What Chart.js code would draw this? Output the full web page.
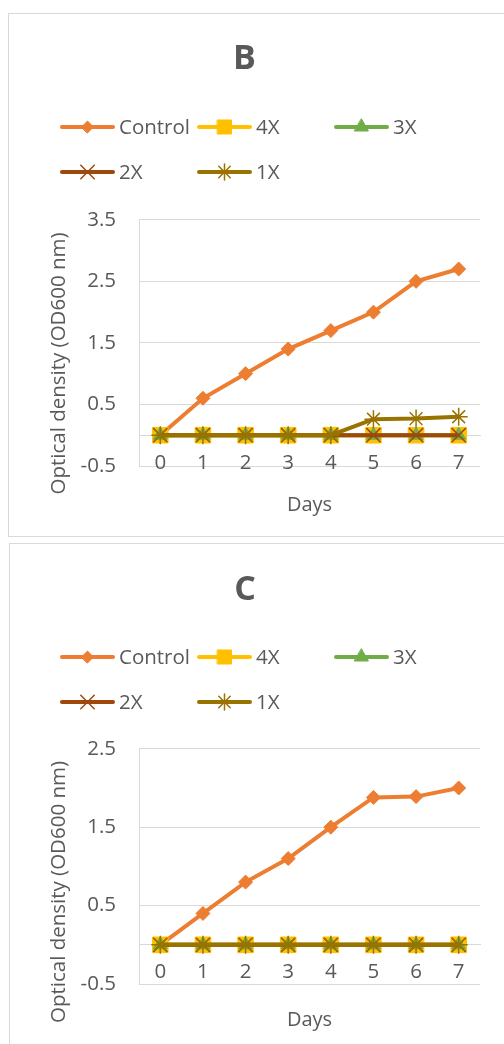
<!DOCTYPE html>
<html>
<head>
<meta charset="utf-8">
<script src="https://cdn.jsdelivr.net/npm/chart.js@4/dist/chart.umd.min.js"></script>
<style>
  html, body { margin: 0; padding: 0; background: #fff; width: 504px; height: 1044px; overflow: hidden; position: relative; }
  .panel { position: absolute; box-sizing: border-box; border: 1px solid #d9d9d9; width: 530px; height: 524px; background: #fff; }
  #panelB { left: 8px; top: 13px; }
  #panelC { left: 9px; top: 543px; }
  .panel canvas { position: absolute; left: 0; top: 0; }
</style>
</head>
<body>
<div class="panel" id="panelB"><canvas id="chartB" width="495" height="522"></canvas></div>
<div class="panel" id="panelC"><canvas id="chartC" width="494" height="522"></canvas></div>
<script>
// Days of incubation (category axis)
const days = ['0', '1', '2', '3', '4', '5', '6', '7'];
const seriesNames = ['Control', '4X', '3X', '2X', '1X'];

// Panel B: optical density (OD600)
const controlB = [0, 0.6, 1.0, 1.4, 1.7, 2.0, 2.5, 2.7];
const fourXB   = [0, 0, 0, 0, 0, 0, 0, 0];
const threeXB  = [0, 0, 0, 0, 0, 0, 0, 0];
const twoXB    = [0, 0, 0, 0, 0, 0, 0, 0];
const oneXB    = [0, 0, 0, 0, 0, 0.26, 0.27, 0.3];
const yTicksB  = [-0.5, 0.5, 1.5, 2.5, 3.5];

// Panel C: optical density (OD600)
const controlC = [0, 0.4, 0.8, 1.1, 1.5, 1.88, 1.89, 2.0];
const fourXC   = [0, 0, 0, 0, 0, 0, 0, 0];
const threeXC  = [0, 0, 0, 0, 0, 0, 0, 0];
const twoXC    = [0, 0, 0, 0, 0, 0, 0, 0];
const oneXC    = [0, 0, 0, 0, 0, 0, 0, 0];
const yTicksC  = [-0.5, 0.5, 1.5, 2.5];

const FONT = '"Open Sans", "Liberation Sans", sans-serif';
const TEXT = '#595959';
const GRID = '#d9d9d9';

// Series styling, in series order
const seriesStyle = [
  { color: '#ED7D31', point: 'rectRot',  radius: 7,  bw: 1,   legendScale: 0.85 },
  { color: '#FFC000', point: 'rect',     radius: 11, bw: 1,   legendScale: 0.9 },
  { color: '#70AD47', point: 'triangle', radius: 8,  bw: 1,   legendScale: 1.0 },
  { color: '#9E480E', point: 'crossRot', radius: 10, bw: 1.5, legendScale: 0.95 },
  { color: '#997300', point: 'star',     radius: 9,  bw: 1.5, legendScale: 0.9 }
];

// Legend laid out in fixed columns above the plot
const gridLegend = {
  id: 'gridLegend',
  afterDraw(chart, args, opts) {
    const ctx = chart.ctx;
    chart.data.datasets.forEach((ds, i) => {
      const st = seriesStyle[i];
      const x = opts.cols[i % 3];
      const y = opts.rows[Math.floor(i / 3)];
      const len = 55;
      ctx.save();
      ctx.strokeStyle = ds.borderColor;
      ctx.lineWidth = ds.borderWidth;
      ctx.lineCap = 'round';
      ctx.beginPath();
      ctx.moveTo(x + 2, y);
      ctx.lineTo(x + len - 2, y);
      ctx.stroke();
      ctx.fillStyle = ds.pointBackgroundColor;
      ctx.strokeStyle = ds.pointBorderColor;
      ctx.lineWidth = ds.pointBorderWidth;
      Chart.helpers.drawPoint(ctx, {
        pointStyle: ds.pointStyle,
        radius: ds.pointRadius * st.legendScale,
        borderWidth: ds.pointBorderWidth,
        rotation: 0
      }, x + len / 2, y);
      ctx.fillStyle = TEXT;
      ctx.font = '20.5px ' + FONT;
      ctx.textBaseline = 'middle';
      ctx.textAlign = 'left';
      ctx.fillText(ds.label, x + len + 4, y + 1);
      ctx.restore();
    });
  }
};

// Vertical axis title, centred on the whole plot block
const sideTitle = {
  id: 'sideTitle',
  afterDraw(chart, args, opts) {
    const ctx = chart.ctx;
    ctx.save();
    ctx.translate(opts.x, opts.y);
    ctx.rotate(-Math.PI / 2);
    ctx.fillStyle = TEXT;
    ctx.font = '20.5px ' + FONT;
    ctx.textAlign = 'center';
    ctx.textBaseline = 'middle';
    ctx.fillText(opts.text, 0, 0);
    ctx.restore();
  }
};

function buildChart(canvasId, title, series, yTicks, g) {
  const canvas = document.getElementById(canvasId);
  const datasets = series.map((data, i) => {
    const st = seriesStyle[i];
    return {
      label: seriesNames[i],
      data: data,
      borderColor: st.color,
      backgroundColor: st.color,
      borderWidth: 4,
      pointStyle: st.point,
      pointRadius: st.radius,
      pointHoverRadius: st.radius,
      pointBackgroundColor: st.color,
      pointBorderColor: st.color,
      pointBorderWidth: st.bw,
      tension: 0,
      order: series.length - i
    };
  });
  return new Chart(canvas, {
    type: 'line',
    data: { labels: days, datasets: datasets },
    plugins: [gridLegend, sideTitle],
    options: {
      responsive: false,
      animation: false,
      events: [],
      layout: { padding: { left: 0, right: g.padRight, top: 0, bottom: g.padBottom } },
      plugins: {
        legend: { display: false },
        tooltip: { enabled: false },
        title: {
          display: true,
          text: title,
          color: TEXT,
          font: { family: FONT, size: 34, weight: 'bold', lineHeight: 1.2 },
          padding: { top: g.titleTop, bottom: g.titleBottom }
        },
        gridLegend: { cols: g.legendCols, rows: g.legendRows },
        sideTitle: { text: 'Optical density (OD600 nm)', x: g.yTitleX, y: g.yTitleY }
      },
      scales: {
        x: {
          type: 'category',
          position: { y: 0 },
          offset: true,
          grid: { display: false, drawTicks: false },
          border: { display: true, color: GRID, width: 1 },
          ticks: { color: TEXT, font: { family: FONT, size: 20.5 }, padding: g.xLabelPad, maxRotation: 0, autoSkip: false },
          title: { display: true, text: 'Days', color: TEXT, font: { family: FONT, size: 20 }, padding: { top: 0, bottom: 0 } },
          afterFit(scale) { scale.height = g.daysDrop; }
        },
        y: {
          min: yTicks[0],
          max: yTicks[yTicks.length - 1],
          afterBuildTicks(scale) {
            scale.ticks = yTicks.map(v => ({ value: v }));
          },
          grid: { color: GRID, lineWidth: 1, drawTicks: false },
          border: { display: true, color: GRID, width: 1 },
          ticks: {
            color: TEXT,
            font: { family: FONT, size: 20.5 },
            padding: g.yLabelPad,
            callback: v => String(v)
          },
          afterFit(scale) { scale.width = g.areaLeft; }
        }
      }
    }
  });
}

buildChart('chartB', 'B', [controlB, fourXB, threeXB, twoXB, oneXB], yTicksB, {
  areaLeft: 130, padRight: 24, padBottom: 70, xLabelPad: 15.7, daysDrop: 82, yLabelPad: 23,
  titleTop: 25, titleBottom: 140, legendCols: [51, 188, 325], legendRows: [113, 158],
  yTitleX: 50, yTitleY: 349.5
});

buildChart('chartC', 'C', [controlC, fourXC, threeXC, twoXC, oneXC], yTicksC, {
  areaLeft: 129, padRight: 24, padBottom: 82, xLabelPad: 14.7, daysDrop: 87, yLabelPad: 23,
  titleTop: 26, titleBottom: 138, legendCols: [50, 187, 324], legendRows: [113, 158],
  yTitleX: 49, yTitleY: 348
});
</script>
</body>
</html>
